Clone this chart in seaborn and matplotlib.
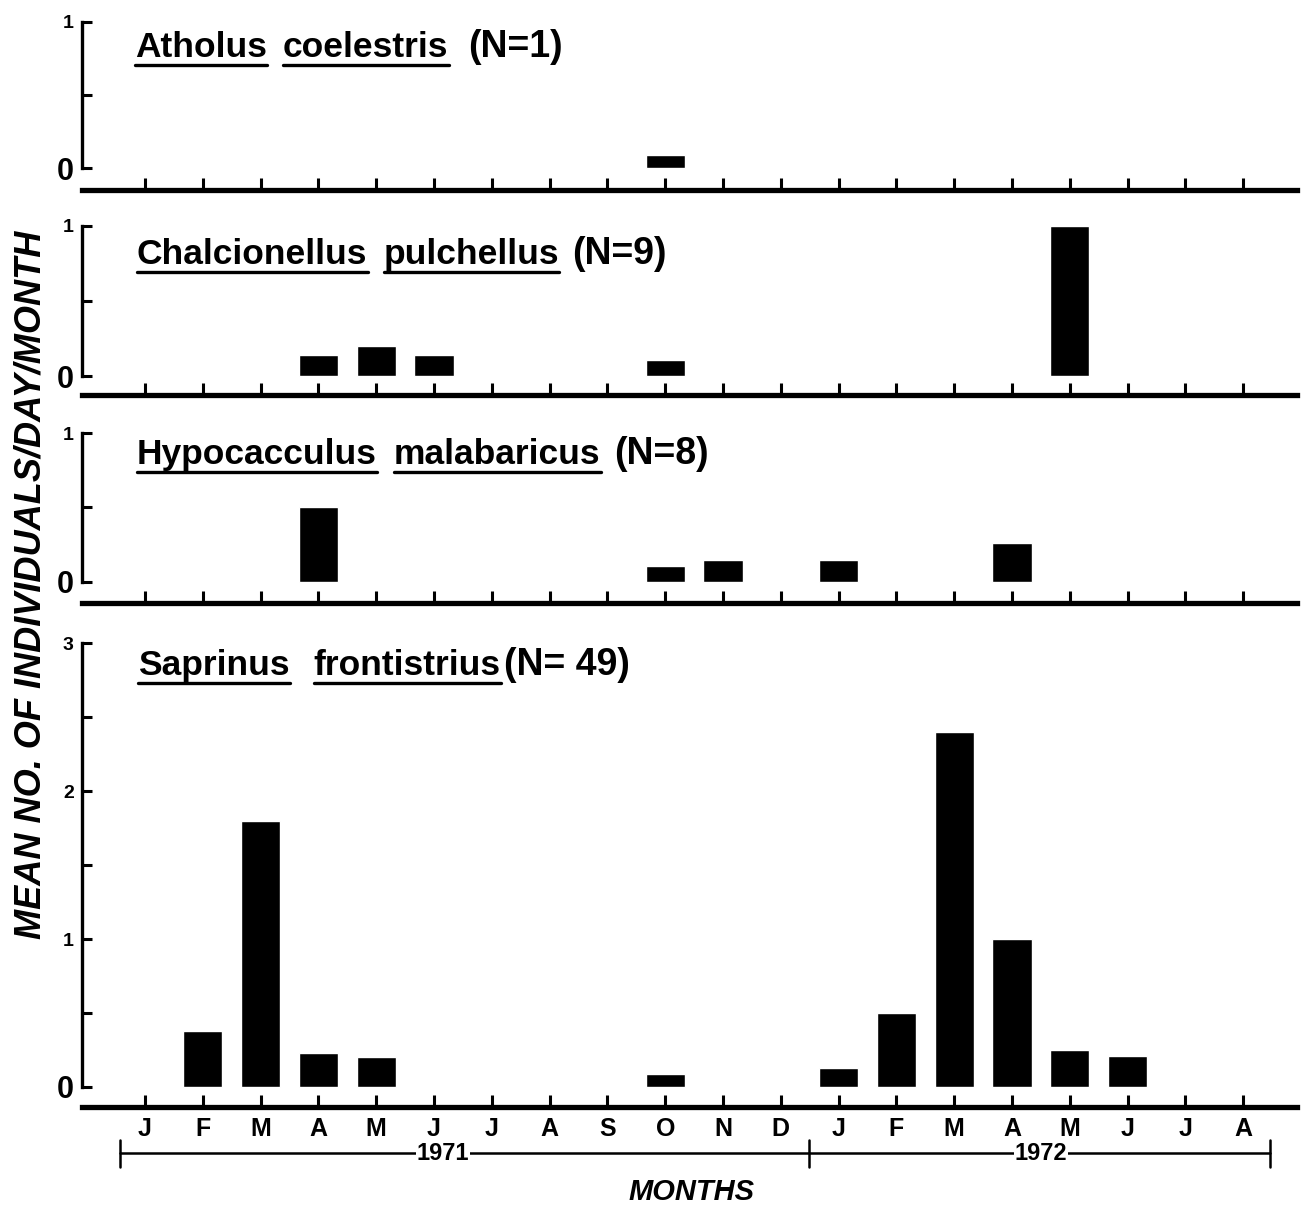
import numpy as np
import pandas as pd
import matplotlib
matplotlib.use("Agg")
import matplotlib.pyplot as plt
import matplotlib.lines as mlines
import seaborn as sns

# ==============================
# DATA
# ==============================
month_ids = ["1971-01", "1971-02", "1971-03", "1971-04", "1971-05", "1971-06",
             "1971-07", "1971-08", "1971-09", "1971-10", "1971-11", "1971-12",
             "1972-01", "1972-02", "1972-03", "1972-04", "1972-05", "1972-06",
             "1972-07", "1972-08"]
month_letters = ["J", "F", "M", "A", "M", "J", "J", "A", "S", "O", "N", "D",
                 "J", "F", "M", "A", "M", "J", "J", "A"]
years = ["1971", "1972"]

atholus = [0, 0, 0, 0, 0, 0, 0, 0, 0, 0.09, 0, 0,
           0, 0, 0, 0, 0, 0, 0, 0]
chalcionellus = [0, 0, 0, 0.14, 0.20, 0.14, 0, 0, 0, 0.11, 0, 0,
                 0, 0, 0, 0, 1.0, 0, 0, 0]
hypocacculus = [0, 0, 0, 0.5, 0, 0, 0, 0, 0, 0.11, 0.15, 0,
                0.15, 0, 0, 0.26, 0, 0, 0, 0]
saprinus = [0, 0.38, 1.8, 0.23, 0.2, 0, 0, 0, 0, 0.09, 0, 0,
            0.13, 0.5, 2.4, 1.0, 0.25, 0.21, 0, 0]

titles = [("Atholus", "coelestris", "(N=1)"),
          ("Chalcionellus", "pulchellus", "(N=9)"),
          ("Hypocacculus", "malabaricus", "(N=8)"),
          ("Saprinus", "frontistrius", "(N= 49)")]
series = [atholus, chalcionellus, hypocacculus, saprinus]
y_max = [1, 1, 1, 3]

# ==============================
# LAYOUT (pixels from top)
# ==============================
W, H = 1304, 1207
# top of axes, pixel of y=0, pixel of y=ymax, pixel of x-axis line
panel_px = [(12, 168, 22, 190),
            (216, 376, 226, 395),
            (421, 582, 433, 603),
            (633, 1087, 643, 1107)]
title_px = [(135, 57), (137, 264), (137, 464), (138, 675)]
title_gaps = [(16, 20), (16, 13), (17, 14), (24, 3)]
x_left, x_right = 82, 1297
xlim = (-1.09, 19.93)

sns.set_style("white")
plt.rcParams["font.family"] = ["Liberation Sans", "DejaVu Sans"]
plt.rcParams["text.color"] = "black"
plt.rcParams["xtick.color"] = "black"
plt.rcParams["ytick.color"] = "black"

fig = plt.figure(figsize=(W / 100, H / 100), dpi=100)
renderer = fig.canvas.get_renderer()

axes = []
for i, (vals, ymax, (p_top, p_zero, p_max, p_axis)) in enumerate(zip(series, y_max, panel_px)):
    ax = fig.add_axes([x_left / W, 1 - p_axis / H, (x_right - x_left) / W, (p_axis - p_top) / H])
    df = pd.DataFrame({"month": month_ids, "value": vals})
    sns.barplot(data=df, x="month", y="value", order=month_ids, color="black",
                saturation=1, width=0.68, errorbar=None, ax=ax)
    scale = (p_zero - p_max) / ymax
    ax.set_ylim(-(p_axis - p_zero) / scale, (p_zero - p_top) / scale)
    ax.set_xlim(*xlim)
    ax.set_xlabel("")
    ax.set_ylabel("")

    for s in ["top", "right"]:
        ax.spines[s].set_visible(False)
    ax.spines["left"].set_bounds(0, ymax)
    ax.spines["left"].set_linewidth(2.4)
    ax.spines["left"].set_color("black")
    ax.spines["bottom"].set_linewidth(3.8)
    ax.spines["bottom"].set_color("black")

    ax.set_yticks(range(ymax + 1))
    ax.set_yticks(np.arange(0.5, ymax, 1.0), minor=True)
    ax.set_yticklabels([str(v) for v in range(ymax + 1)])
    ax.tick_params(axis="y", which="both", left=True, direction="in", length=7,
                   width=2.2, color="black", pad=6)
    for lab in ax.get_yticklabels():
        lab.set_fontweight("bold")
        lab.set_fontsize(22 if lab.get_text() == "0" else 14)

    ax.set_xticks(range(len(month_ids)))
    ax.tick_params(axis="x", which="both", bottom=True, direction="in", length=9,
                   width=2.2, color="black", pad=7)
    if i < 3:
        ax.set_xticklabels([])
    else:
        ax.set_xticklabels(month_letters, fontsize=18, fontweight="bold")

    # title with underlined genus and species
    tx, ty = title_px[i]
    fx = tx
    for j, piece in enumerate(titles[i]):
        t = fig.text(fx / W, 1 - ty / H, piece, fontsize=25.5 if j < 2 else 27,
                     fontweight="bold", va="baseline", ha="left")
        bb = t.get_window_extent(renderer)
        if j < 2:
            uy = 1 - (ty + 8) / H
            fig.add_artist(mlines.Line2D([bb.x0 / W, bb.x1 / W], [uy, uy],
                                         transform=fig.transFigure, color="black", lw=2.4))
            fx = bb.x1 + title_gaps[i][j]
    axes.append(ax)

# ==============================
# YEAR BRACKET AND AXIS TITLES
# ==============================
ax4 = axes[-1]
trans = ax4.get_xaxis_transform()
p_axis4 = panel_px[-1][3]
p_h4 = p_axis4 - panel_px[-1][0]
yb = -(1153 - p_axis4) / p_h4
ax4.add_line(mlines.Line2D([-0.43, 19.46], [yb, yb], transform=trans, color="black",
                           lw=1.8, clip_on=False))
for xb in [-0.43, 11.49, 19.46]:
    ax4.add_line(mlines.Line2D([xb, xb], [yb + 13 / p_h4, yb - 14 / p_h4], transform=trans,
                               color="black", lw=1.8, clip_on=False))
for xt, yr in zip([5.15, 15.5], years):
    ax4.text(xt, yb, yr, transform=trans, ha="center", va="center", fontsize=17,
             fontweight="bold", clip_on=False,
             bbox=dict(facecolor="white", edgecolor="none", pad=0.5))
ax4.text(9.45, -(1192 - p_axis4) / p_h4, "MONTHS", transform=trans, ha="center",
         va="center", fontsize=21, fontweight="bold", fontstyle="italic", clip_on=False)

fig.text(31 / W, 1 - 585 / H, "MEAN NO. OF INDIVIDUALS/DAY/MONTH", rotation=90,
         ha="center", va="center", fontsize=26, fontweight="bold", fontstyle="italic")

fig.savefig("out.png", dpi=100)
